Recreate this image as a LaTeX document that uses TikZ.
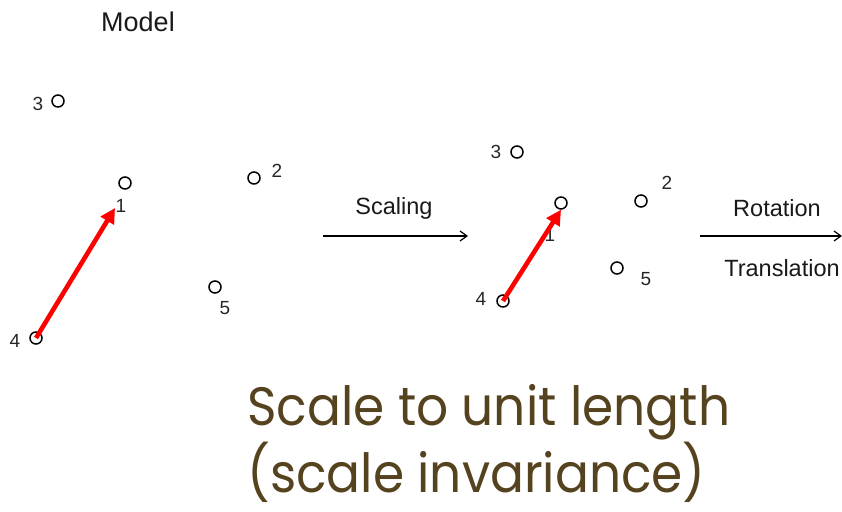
\documentclass[tikz,border=0pt]{standalone}
\usepackage{fontspec}
\setmainfont{Liberation Sans}
\newfontfamily\titlefont{Poppins}
\usepackage{xcolor}
\usetikzlibrary{arrows.meta,positioning}
\definecolor{capbrown}{RGB}{85,67,32}

\begin{document}
\begin{tikzpicture}[
  x=1pt, y=-1pt,
  pnt/.style={circle, draw=black, line width=1.5pt, inner sep=0pt, minimum size=12pt},
  num/.style={font=\fontsize{19}{19}\selectfont, text=black!85, inner sep=0pt},
  word/.style={font=\fontsize{23.5}{24}\selectfont, text=black!90, inner sep=0pt},
  ttl/.style={font=\fontsize{27}{27}\selectfont, text=black!90, inner sep=0pt},
  capline/.style={anchor=base west, inner sep=0pt, text=capbrown,
                  font=\titlefont\fontsize{54}{54}\selectfont},
  vec/.style={-{Triangle[length=15pt,width=15pt]}, red, line width=4.6pt},
  tarr/.style={-{Straight Barb[length=7pt,width=10pt]}, black, line width=1.2pt}
]
\useasboundingbox (0,0) rectangle (842,511);
% model shape
\node[ttl] (model) at (138,22) {Model};
\node[pnt] (m3) at (58,101) {};
\node[pnt] (m1) at (125,183) {};
\node[pnt] (m2) at (254,178) {};
\node[pnt] (m5) at (215,287) {};
\node[pnt] (m4) at (36,338) {};
\node[num] (l3) at (38,104) {3};
\node[num] (l1) at (121,206) {1};
\node[num] (l2) at (277,171) {2};
\node[num] (l5) at (225,308) {5};
\node[num] (l4) at (15,341) {4};
\coordinate (m1tip) at (115,208);
\draw[vec] (m4.center) -- (m1tip);
% scaling step
\node[word] (scl) at (394,208) {Scaling};
\coordinate (s0) at (323,236);
\coordinate (s1) at (468,236);
\draw[tarr] (s0) -- (s1);
% scaled shape
\node[pnt] (n3) at (517,152) {};
\node[pnt] (n1) at (561,203) {};
\node[pnt] (n2) at (641,201) {};
\node[pnt] (n5) at (617,268) {};
\node[pnt] (n4) at (503,301) {};
\node[num] (k3) at (496,152) {3};
\node[num] (k1) at (550,235) {1};
\node[num] (k2) at (667,183) {2};
\node[num] (k5) at (646,279) {5};
\node[num] (k4) at (481,299) {4};
\draw[vec] (n4.center) -- (n1.south);
% rotation and translation step
\node[word] (rot) at (777,208) {Rotation};
\node[word] (trn) at (782,268) {Translation};
\coordinate (r0) at (700,236);
\coordinate (r1) at (842,236);
\draw[tarr] (r0) -- (r1);
% caption
\node[capline] (cap1) at (247,425) {\scalebox{0.93}[1]{Scale to unit length}};
\node[capline] (cap2) at (247,492) {\scalebox{0.93}[1]{(scale invariance)}};
\end{tikzpicture}
\end{document}
